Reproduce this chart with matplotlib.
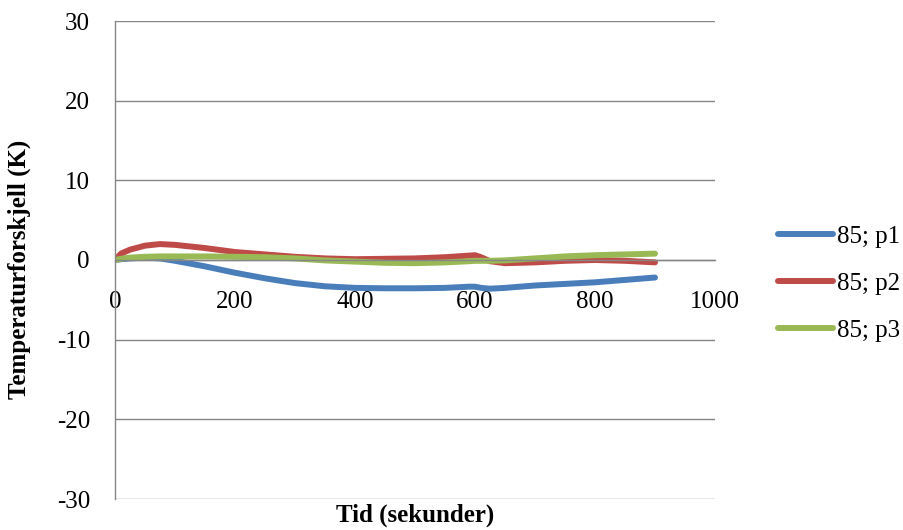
import numpy as np
import matplotlib
matplotlib.use("Agg")
import matplotlib.pyplot as plt

plt.rcParams["font.family"] = ["Liberation Serif", "DejaVu Serif"]
plt.rcParams["font.size"] = 18
plt.rcParams["axes.unicode_minus"] = False

# time (s) and temperature difference (K) for each probe
tid = [0, 10, 25, 50, 75, 100, 150, 200, 250, 300, 350, 400, 450, 500,
       550, 590, 600, 610, 625, 650, 700, 750, 800, 850, 900]
p1 = [0.0, 0.1, 0.2, 0.3, 0.2, -0.1, -0.8, -1.6, -2.3, -2.9, -3.3, -3.5, -3.55, -3.55,
      -3.5, -3.35, -3.35, -3.5, -3.6, -3.5, -3.2, -3.0, -2.8, -2.5, -2.2]
p2 = [0.0, 0.8, 1.3, 1.8, 2.0, 1.9, 1.5, 1.0, 0.7, 0.4, 0.2, 0.1, 0.15, 0.2,
      0.35, 0.55, 0.6, 0.35, -0.15, -0.4, -0.3, -0.1, 0.0, -0.1, -0.3]
p3 = [0.0, 0.15, 0.3, 0.4, 0.45, 0.45, 0.45, 0.4, 0.35, 0.2, -0.05, -0.2, -0.35, -0.4,
      -0.3, -0.15, -0.1, -0.1, -0.1, -0.05, 0.2, 0.45, 0.6, 0.7, 0.8]

series = [("85; p1", p1, "#4a7ebb"),
          ("85; p2", p2, "#be4b48"),
          ("85; p3", p3, "#98b954")]

fig = plt.figure(figsize=(9.04, 5.30), dpi=100)
ax = fig.add_axes([115/904, 31/530, 600/904, 478/530])

for name, vals, col in series:
    ax.plot(tid, vals, color=col, lw=4.3, label=name,
            solid_capstyle="round", solid_joinstyle="round")

ax.set_xlim(0, 1000)
ax.set_ylim(-30, 30)
ax.set_xticks(np.arange(0, 1001, 200))
ax.set_yticks(np.arange(-30, 31, 10))

grey = "#868686"
ax.yaxis.grid(True, color=grey, lw=1.0)
ax.set_axisbelow(True)
for s in ["top", "right"]:
    ax.spines[s].set_visible(False)
ax.spines["bottom"].set_position(("data", 0))
ax.spines["bottom"].set_color(grey)
ax.spines["left"].set_color(grey)
ax.spines["bottom"].set_linewidth(1.0)
ax.spines["left"].set_linewidth(1.0)
ax.tick_params(axis="y", length=0, pad=18, labelsize=18)
ax.tick_params(axis="x", length=0, pad=22, labelsize=18)

fig.text(19/904, 261/530, "Temperaturforskjell (K)", rotation=90,
         ha="center", va="center", fontweight="bold", fontsize=18)
fig.text(415/904, 8/530, "Tid (sekunder)", ha="center", va="baseline",
         fontweight="bold", fontsize=18)

fig.legend(loc="center left", bbox_to_anchor=(778/904, (530-283.5)/530),
           frameon=False, borderpad=0, borderaxespad=0, handlelength=2.2,
           handletextpad=0.16, labelspacing=0.97, fontsize=18)

fig.savefig("out.png", dpi=100)
